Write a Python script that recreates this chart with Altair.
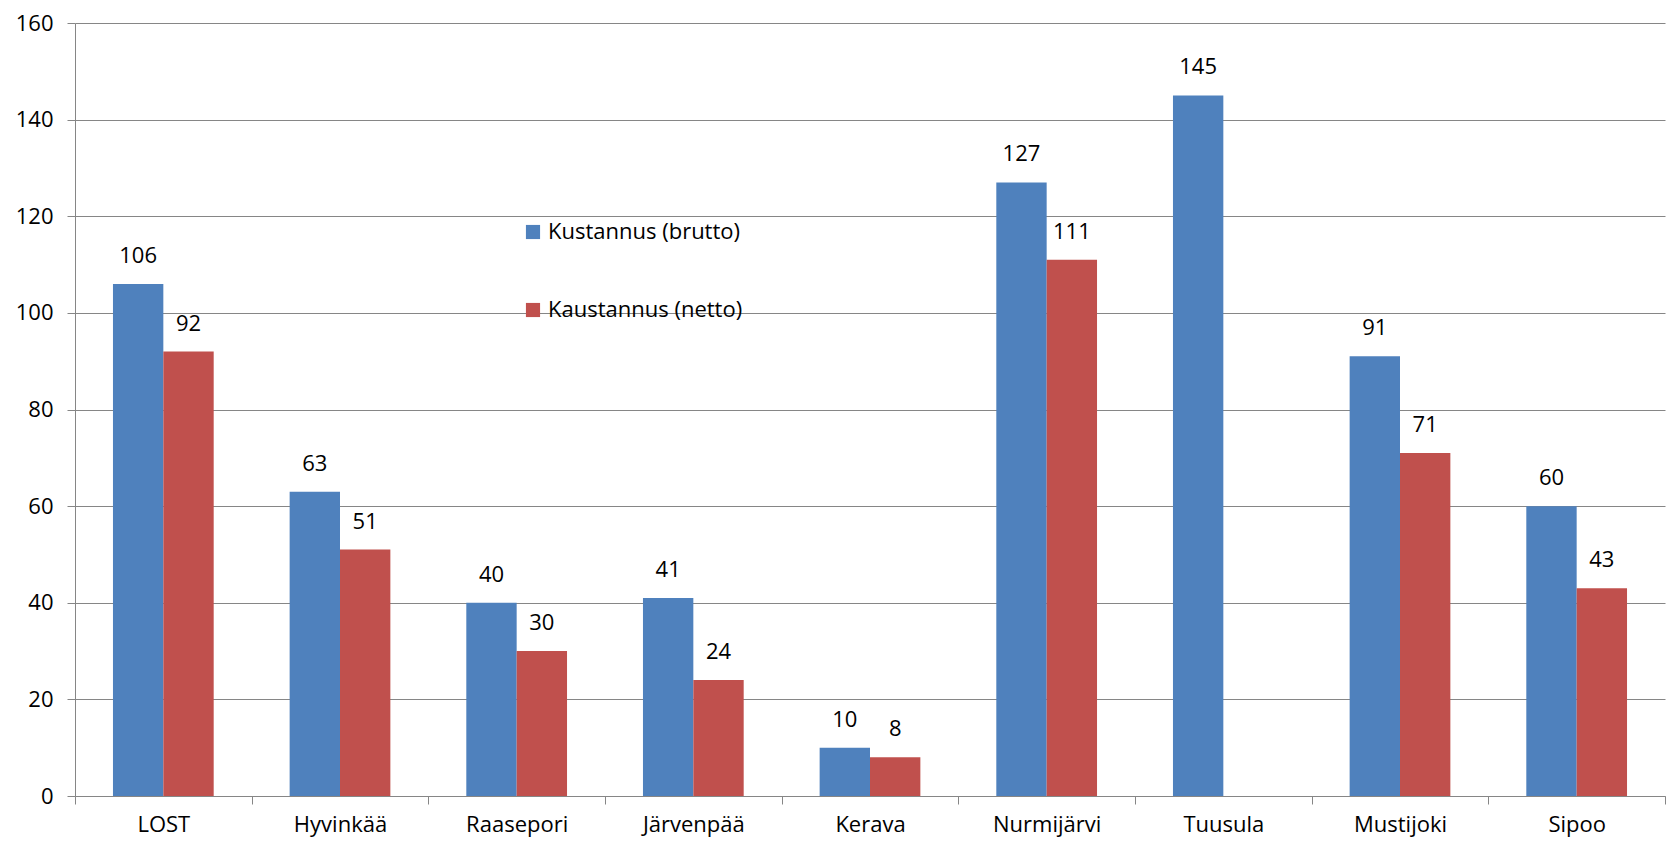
import altair as alt
import pandas as pd

categories = ["LOST", "Hyvinkää", "Raasepori", "Järvenpää", "Kerava",
              "Nurmijärvi", "Tuusula", "Mustijoki", "Sipoo"]
series = ["Kustannus (brutto)", "Kaustannus (netto)"]
brutto = [106, 63, 40, 41, 10, 127, 145, 91, 60]
netto = [92, 51, 30, 24, 8, 111, None, 71, 43]
colors = ["#4F81BD", "#C0504D"]
y_ticks = [0, 20, 40, 60, 80, 100, 120, 140, 160]

rows = []
for c, b, n in zip(categories, brutto, netto):
    if b is not None:
        rows.append({"kunta": c, "sarja": series[0], "arvo": b})
    if n is not None:
        rows.append({"kunta": c, "sarja": series[1], "arvo": n})
df = pd.DataFrame(rows)

FONT = "Open Sans"
FS = 22

x_enc = alt.X("kunta:N", sort=categories, title=None,
              scale=alt.Scale(paddingInner=0, paddingOuter=0),
              axis=alt.Axis(labelAngle=0, tickBand="extent", grid=False,
                            domainColor="#868686", tickColor="#868686",
                            tickSize=8, labelPadding=10, labelFontSize=FS,
                            labelFont=FONT, labelColor="#000000"))
xo_enc = alt.XOffset("sarja:N", sort=series,
                     scale=alt.Scale(domain=series, paddingInner=0, paddingOuter=0.754))
y_enc = alt.Y("arvo:Q", title=None,
              scale=alt.Scale(domain=[0, 160], nice=False),
              axis=alt.Axis(values=y_ticks, grid=True, gridColor="#868686",
                            domainColor="#868686", tickColor="#868686",
                            tickSize=8, labelPadding=14, labelFontSize=FS,
                            labelFont=FONT, labelColor="#000000"))

bars = alt.Chart(df).mark_bar().encode(
    x=x_enc, xOffset=xo_enc, y=y_enc,
    color=alt.Color("sarja:N", sort=series,
                    scale=alt.Scale(domain=series, range=colors),
                    legend=alt.Legend(title=None, orient="none", legendX=447, legendY=198,
                                      symbolType="square", symbolSize=200,
                                      symbolStrokeWidth=0, labelFontSize=FS,
                                      labelFont=FONT, labelColor="#000000",
                                      labelLimit=400,
                                      rowPadding=56, labelOffset=4,
                                      direction="vertical")),
)

labels = alt.Chart(df).mark_text(baseline="alphabetic", dy=-21, fontSize=FS,
                                 font=FONT, color="#000000").encode(
    x=alt.X("kunta:N", sort=categories), xOffset=xo_enc,
    y=alt.Y("arvo:Q"),
    text=alt.Text("arvo:Q"),
)

chart = (bars + labels).properties(
    width=1590, height=773,
    padding={"left": 7, "top": 4, "right": 0, "bottom": 6},
    background="white",
).configure_view(stroke=None)

chart.save("out.html", embed_options={"renderer": "svg", "actions": False})
